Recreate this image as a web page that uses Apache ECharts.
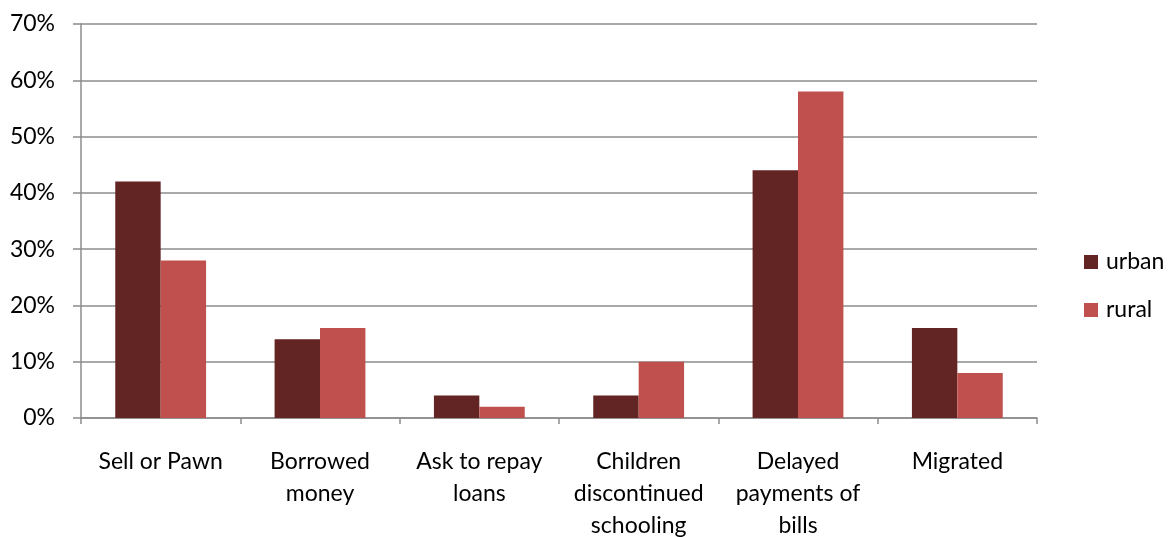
<!DOCTYPE html>
<html>
<head>
<meta charset="utf-8">
<script src="https://cdn.jsdelivr.net/npm/echarts@6/dist/echarts.min.js"></script>
<style>
  html, body { margin: 0; padding: 0; background: #ffffff; }
  #chart { width: 1172px; height: 537px; }
</style>
</head>
<body>
<div id="chart"></div>
<script>
const categories = [
  'Sell or Pawn',
  'Borrowed\nmoney',
  'Ask to repay\nloans',
  'Children\ndiscontinued\nschooling',
  'Delayed\npayments of\nbills',
  'Migrated'
]
const urban = [42, 14, 4, 4, 44, 16]
const rural = [28, 16, 2, 10, 58, 8]
const yTicks = { min: 0, max: 70, interval: 10 }

const font = 'Lato, "Open Sans", sans-serif'
const axisColor = '#8c8c8c'

const myChart = echarts.init(document.getElementById('chart'))
const option = {
  animation: false,
  textStyle: { fontFamily: font },
  legend: {
    orient: 'vertical',
    left: 1079,
    top: 245,
    itemGap: 24,
    itemWidth: 14,
    itemHeight: 14,
    icon: 'rect',
    textStyle: { color: '#000', fontSize: 23, lineHeight: 24, fontFamily: font, padding: [0, 0, 0, 3] },
    data: ['urban', 'rural']
  },
  grid: {
    left: 81,
    right: 135,
    top: 24,
    bottom: 119,
    containLabel: false,
    outerBoundsMode: 'none'
  },
  xAxis: {
    type: 'category',
    data: categories,
    axisLine: { show: true, lineStyle: { color: axisColor, width: 1.5 } },
    axisTick: { show: true, length: 6, alignWithLabel: false, lineStyle: { color: axisColor, width: 1.5 } },
    axisLabel: {
      color: '#000',
      fontSize: 23,
      lineHeight: 32,
      margin: 28,
      interval: 0,
      fontFamily: font
    }
  },
  yAxis: {
    type: 'value',
    min: yTicks.min,
    max: yTicks.max,
    interval: yTicks.interval,
    axisLine: { show: true, lineStyle: { color: axisColor, width: 1.5 } },
    axisTick: { show: true, length: 8, lineStyle: { color: axisColor, width: 1.5 } },
    axisLabel: {
      color: '#000',
      fontSize: 23,
      margin: 26,
      fontFamily: font,
      formatter: (value) => value + '%'
    },
    splitLine: {
      show: true,
      lineStyle: { color: axisColor, width: 1.5 }
    }
  },
  series: [
    {
      name: 'urban',
      type: 'bar',
      data: urban,
      barGap: '0%',
      barCategoryGap: '43%',
      itemStyle: { color: '#632523' }
    },
    {
      name: 'rural',
      type: 'bar',
      data: rural,
      barGap: '0%',
      barCategoryGap: '43%',
      itemStyle: { color: '#c0504d' }
    }
  ]
}
myChart.setOption(option)
</script>
</body>
</html>
